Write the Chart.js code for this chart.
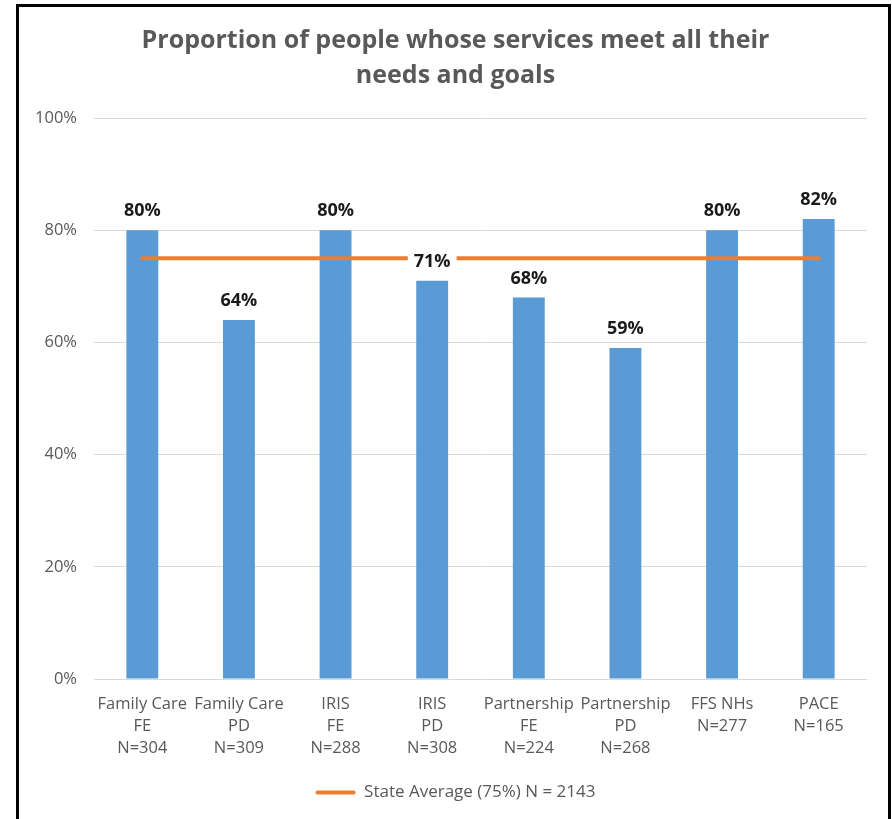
<!DOCTYPE html>
<html>
<head>
<meta charset="utf-8">
<script src="https://cdn.jsdelivr.net/npm/chart.js@4"></script>
<style>
  html, body { margin: 0; padding: 0; background: #fff; }
  #wrap { position: absolute; left: 0; top: 0; width: 892px; height: 819px; }
  #frame {
    position: absolute; left: 16px; top: 4px; width: 875px; height: 830px;
    border: 3px solid #000; box-sizing: border-box; pointer-events: none;
  }
</style>
</head>
<body>
<div id="wrap"><canvas id="chart"></canvas></div>
<div id="frame"></div>
<script>
// Program groups shown along the x axis (name, target group, sample size)
const categories = [
  ['Family Care', 'FE', 'N=304'],
  ['Family Care', 'PD', 'N=309'],
  ['IRIS', 'FE', 'N=288'],
  ['IRIS', 'PD', 'N=308'],
  ['Partnership', 'FE', 'N=224'],
  ['Partnership', 'PD', 'N=268'],
  ['FFS NHs', 'N=277'],
  ['PACE', 'N=165']
];

// Percent of people whose services meet all their needs and goals
const programValues = [80, 64, 80, 71, 68, 59, 80, 82];

// Statewide average drawn as a reference line across all programs
const stateAverage = [75, 75, 75, 75, 75, 75, 75, 75];
const stateAverageLabel = 'State Average (75%) N = 2143';

const yTickLabels = ['0%', '20%', '40%', '60%', '80%', '100%'];

const chartTitle = ['Proportion of people whose services meet all their', 'needs and goals'];

const FONT = "'Open Sans', 'DejaVu Sans', sans-serif";
const GRAY_TEXT = '#595959';
const BAR_BLUE = '#5B9BD5';
const LINE_ORANGE = '#ED7D31';

// Bold value labels above each bar, on a white backing box
const valueLabels = {
  id: 'valueLabels',
  afterDatasetsDraw(chart) {
    const meta = chart.getDatasetMeta(0);
    const ctx = chart.ctx;
    ctx.save();
    ctx.font = "bold 18px " + FONT;
    ctx.textAlign = 'center';
    ctx.textBaseline = 'middle';
    meta.data.forEach((bar, i) => {
      const text = programValues[i] + '%';
      const x = bar.x;
      const y = bar.y - 20;
      const w = ctx.measureText(text).width + 12;
      ctx.fillStyle = '#ffffff';
      ctx.fillRect(x - w / 2, y - 11, w, 22);
      ctx.fillStyle = '#1a1a1a';
      ctx.fillText(text, x, y + 1);
    });
    ctx.restore();
  }
};

// Let the y tick labels use the space left of the axis box (avoids clipping "100%")
const widenTickArea = {
  id: 'widenTickArea',
  afterLayout(chart) {
    chart.scales.y.left = 0;
  }
};

new Chart(document.getElementById('chart'), {
  data: {
    labels: categories,
    datasets: [
      {
        type: 'bar',
        label: 'Programs',
        data: programValues,
        backgroundColor: BAR_BLUE,
        barPercentage: 0.33,
        categoryPercentage: 1.0,
        order: 1
      },
      {
        type: 'line',
        label: stateAverageLabel,
        data: stateAverage,
        borderColor: LINE_ORANGE,
        backgroundColor: LINE_ORANGE,
        borderWidth: 4,
        borderCapStyle: 'round',
        pointRadius: 0,
        fill: false,
        order: 0
      }
    ]
  },
  options: {
    responsive: true,
    maintainAspectRatio: false,
    animation: false,
    layout: { padding: { left: 44, right: 25, top: 0, bottom: 8 } },
    plugins: {
      title: {
        display: true,
        text: chartTitle,
        color: GRAY_TEXT,
        font: { family: FONT, size: 25, weight: 'bold', lineHeight: '35px' },
        padding: { top: 23, bottom: 25 }
      },
      legend: {
        position: 'bottom',
        labels: {
          color: GRAY_TEXT,
          font: { family: FONT, size: 17 },
          boxWidth: 40,
          boxHeight: 4,
          padding: 10,
          generateLabels: () => [{
            text: stateAverageLabel,
            fillStyle: LINE_ORANGE,
            strokeStyle: LINE_ORANGE,
            lineWidth: 0,
            borderRadius: 2,
            datasetIndex: 1,
            fontColor: GRAY_TEXT
          }]
        }
      },
      tooltip: { enabled: false }
    },
    scales: {
      x: {
        grid: { display: false, drawTicks: false },
        border: { display: false },
        ticks: {
          color: GRAY_TEXT,
          font: { family: FONT, size: 16.5, lineHeight: '22px' },
          padding: 14,
          maxRotation: 0,
          autoSkip: false
        },
        afterFit(scale) { scale.height = 95; }
      },
      y: {
        min: 0,
        max: 100,
        grid: { color: '#d9d9d9', lineWidth: 1, drawTicks: false },
        border: { display: false },
        ticks: {
          stepSize: 20,
          color: GRAY_TEXT,
          font: { family: FONT, size: 16.5 },
          padding: 17,
          callback: (value, index) => yTickLabels[index]
        },
        afterFit(scale) { scale.width = 50; }
      }
    }
  },
  plugins: [valueLabels, widenTickArea]
});
</script>
</body>
</html>
